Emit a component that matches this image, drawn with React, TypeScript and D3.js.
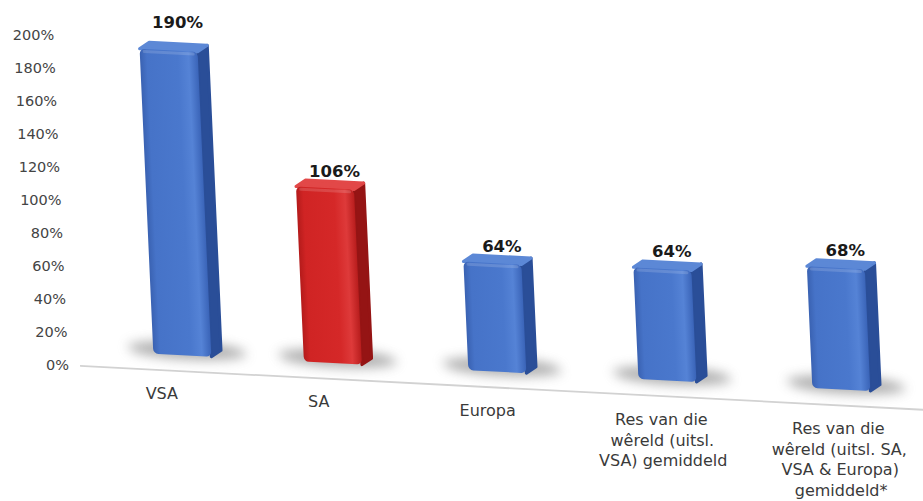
import React from "react";
import * as d3 from "d3";

// ---- data ----
const categories = [
  "VSA",
  "SA",
  "Europa",
  "Res van die wêreld (uitsl. VSA) gemiddeld",
  "Res van die wêreld (uitsl. SA, VSA & Europa) gemiddeld*",
];
const categoryLines = [
  ["VSA"],
  ["SA"],
  ["Europa"],
  ["Res van die", "wêreld (uitsl.", "VSA) gemiddeld"],
  ["Res van die", "wêreld (uitsl. SA,", "VSA & Europa)", "gemiddeld*"],
];
const values = [190, 106, 64, 64, 68];
const tickValues = [0, 20, 40, 60, 80, 100, 120, 140, 160, 180, 200];
const highlightCategory = "SA";

// ---- layout ----
const W = 923;
const H = 501;
const SHEAR_X = 0.045;
const TILT_Y = 0.052;
const OX = 82;
const OY = 365;

function project(X: number, Y: number): [number, number] {
  const dx = X - OX;
  const dy = Y - OY;
  return [OX + dx + SHEAR_X * dy, OY + TILT_Y * dx + dy];
}

const palette = {
  blue: { front: ["#3a62b2", "#4673c8", "#4a78cd", "#5583d6", "#3a64b8"], side: "#2a4e98", top: "#5c88d6" },
  red: { front: ["#b41b1b", "#d02424", "#d52828", "#de3a3a", "#b81d1d"], side: "#951414", top: "#e24848" },
};

export default function App() {
  const n = categories.length;
  const xBar = d3.scalePow().exponent(1.065).domain([0, n - 1]).range([183, 842]);
  const xLabel = d3.scalePow().exponent(1.054).domain([0, n - 1]).range([160.5, 837]);
  const pxPerUnit = d3.scaleLinear().domain([0, n - 1]).range([1.605, 1.79]);
  const yAxis = d3.scaleLinear().domain([0, 200]).range([365.6, 36]);
  const yValueLabel = d3.scaleLinear().domain([0, 200]).range([343.7, 5.1]);
  const floorY = 350;
  const baselineY = 366;
  const barW = 58;
  const depthX = 10;
  const depthY = -7;

  const bars = categories.map((c, i) => {
    const k = pxPerUnit(i);
    const h = d3.scaleLinear().domain([0, 200]).range([0, 200 * k]);
    const cx = xBar(i);
    const top = floorY - h(values[i]);
    return { c, i, cx, top, x0: cx - barW / 2, x1: cx + barW / 2, color: c === highlightCategory ? "red" : "blue" };
  });

  const shapeTransform = `translate(${OX},${OY}) matrix(1,${TILT_Y},${SHEAR_X},1,0,0) translate(${-OX},${-OY})`;

  return (
    <div style={{ position: "absolute", left: 0, top: 0 }}>
      <svg width={W} height={H} style={{ display: "block", background: "#fff" }} fontFamily="'DejaVu Sans', Verdana, sans-serif">
        <defs>
          {(["blue", "red"] as const).map((k) => (
            <linearGradient id={`front-${k}`} key={k} x1="0" y1="0" x2="1" y2="0">
              <stop offset="0%" stopColor={palette[k].front[0]} />
              <stop offset="12%" stopColor={palette[k].front[1]} />
              <stop offset="65%" stopColor={palette[k].front[2]} />
              <stop offset="84%" stopColor={palette[k].front[3]} />
              <stop offset="100%" stopColor={palette[k].front[4]} />
            </linearGradient>
          ))}
          <filter id="blur" x="-50%" y="-150%" width="200%" height="400%">
            <feGaussianBlur stdDeviation="6" />
          </filter>
        </defs>
        <g transform={shapeTransform}>
          <line x1={80} x2={940} y1={baselineY} y2={baselineY} stroke="#d2d2d2" strokeWidth={1.8} />
          {bars.map((b) => {
            const p = palette[b.color as "blue" | "red"];
            const bottom = floorY;
            return (
              <g key={b.c}>
                <ellipse cx={b.cx + depthX / 2} cy={bottom - 5} rx={barW / 2 + 30} ry={9} fill="#7a7a7a" opacity={0.6} filter="url(#blur)" />
                <polygon
                  points={`${b.x1},${b.top} ${b.x1 + depthX},${b.top + depthY} ${b.x1 + depthX},${bottom + depthY} ${b.x1},${bottom}`}
                  fill={p.side}
                  stroke={p.side}
                  strokeWidth={3}
                  strokeLinejoin="round"
                />
                <polygon
                  points={`${b.x0},${b.top} ${b.x0 + depthX},${b.top + depthY} ${b.x1 + depthX},${b.top + depthY} ${b.x1},${b.top}`}
                  fill={p.top}
                  stroke={p.top}
                  strokeWidth={3}
                  strokeLinejoin="round"
                />
                <rect x={b.x0} y={b.top} width={barW} height={bottom - b.top} rx={5} fill={`url(#front-${b.color})`} />
                <rect x={b.x0 + 3} y={b.top + 1} width={barW - 6} height={3} rx={1.5} fill="#ffffff" opacity={0.15} />
              </g>
            );
          })}
        </g>
        {tickValues.map((t) => {
          const [x, y] = project(69, yAxis(t));
          return (
            <text key={t} x={x} y={y} textAnchor="end" dominantBaseline="central" fontSize={14.5} fill="#444">
              {`${t}%`}
            </text>
          );
        })}
        {bars.map((b) => {
          const ly = Math.min(yValueLabel(values[b.i]), b.top + depthY - 5);
          const [x, y] = project(b.cx + depthX, ly);
          return (
            <text key={b.c} x={x} y={y} textAnchor="middle" fontSize={16.5} fontWeight="bold" fill="#1a1a1a">
              {`${values[b.i]}%`}
            </text>
          );
        })}
        {categoryLines.map((lines, i) =>
          lines.map((ln, j) => {
            const [x, y] = project(xLabel(i), 395 + j * 20.5);
            return (
              <text key={`${i}-${j}`} x={x} y={y} textAnchor="middle" fontSize={16} fill="#3a3a3a">
                {ln}
              </text>
            );
          })
        )}
      </svg>
    </div>
  );
}
